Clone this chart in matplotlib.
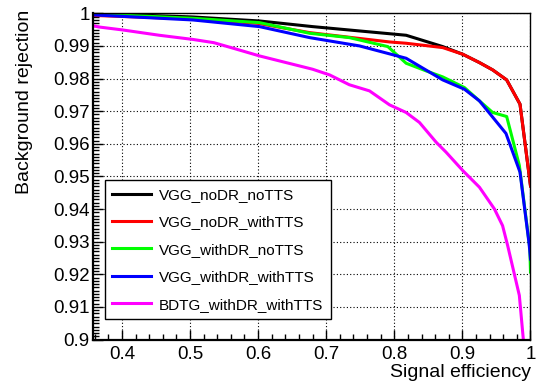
import matplotlib
matplotlib.use("Agg")
import matplotlib.pyplot as plt
from matplotlib.ticker import MultipleLocator, FuncFormatter

plt.rcParams['font.family'] = ['Liberation Sans', 'DejaVu Sans']

# --- data ---
labels = ["VGG_noDR_noTTS", "VGG_noDR_withTTS", "VGG_withDR_noTTS",
          "VGG_withDR_withTTS", "BDTG_withDR_withTTS"]
colors = ["#000000", "#ff0000", "#00ff00", "#0000ff", "#ff00ff"]

eff_vgg_nodr_notts = [0.35, 0.42, 0.504, 0.602, 0.680, 0.8174, 0.8711, 0.9005,
                      0.925, 0.9445, 0.965, 0.9846, 1.0]
rej_vgg_nodr_notts = [0.9999, 0.9995, 0.99888, 0.99765, 0.99592, 0.99327, 0.9898,
                      0.98745, 0.9849, 0.98265, 0.97959, 0.97214, 0.9471]

eff_vgg_nodr_withtts = [0.35, 0.5, 0.6, 0.6756, 0.793, 0.8174, 0.8711, 0.9005,
                        0.925, 0.9445, 0.965, 0.9846, 1.0]
rej_vgg_nodr_withtts = [0.9994, 0.9983, 0.9969, 0.99408, 0.99122, 0.99082, 0.98949,
                        0.98745, 0.9849, 0.98265, 0.97959, 0.97214, 0.9471]

eff_vgg_withdr_notts = [0.35, 0.504, 0.602, 0.6756, 0.734, 0.7905, 0.8174, 0.8467,
                        0.8711, 0.903, 0.925, 0.9445, 0.965, 0.9836, 0.999, 1.0]
rej_vgg_withdr_notts = [0.9999, 0.99847, 0.99714, 0.99388, 0.99255, 0.9898, 0.98469,
                        0.98235, 0.98051, 0.97724, 0.97316, 0.96959, 0.96837, 0.9534,
                        0.928, 0.9207]

eff_vgg_withdr_withtts = [0.35, 0.504, 0.602, 0.6756, 0.749, 0.8174, 0.8711, 0.903,
                          0.925, 0.964, 0.9846, 0.998, 1.0]
rej_vgg_withdr_withtts = [0.9996, 0.99796, 0.99592, 0.99255, 0.99, 0.98622, 0.97959,
                          0.97673, 0.97316, 0.96317, 0.9513, 0.9293, 0.9247]

eff_bdtg = [0.35, 0.3657, 0.401, 0.4549, 0.5039, 0.535, 0.565, 0.602, 0.641, 0.680,
            0.705, 0.734, 0.7636, 0.793, 0.8174, 0.837, 0.8614, 0.876, 0.9005, 0.925,
            0.947, 0.959, 0.9665, 0.9836, 0.9895, 0.9905]
rej_bdtg = [0.9966, 0.99582, 0.9949, 0.99327, 0.9920, 0.9910, 0.9892, 0.98694, 0.9849,
            0.98286, 0.98112, 0.9781, 0.97622, 0.97194, 0.9696, 0.96653, 0.9605, 0.95744,
            0.95181, 0.9467, 0.94004, 0.93492, 0.92878, 0.91355, 0.900, 0.89]

series = [(eff_vgg_nodr_notts, rej_vgg_nodr_notts),
          (eff_vgg_nodr_withtts, rej_vgg_nodr_withtts),
          (eff_vgg_withdr_notts, rej_vgg_withdr_notts),
          (eff_vgg_withdr_withtts, rej_vgg_withdr_withtts),
          (eff_bdtg, rej_bdtg)]

W, H = 546, 382
fig = plt.figure(figsize=(W / 100, H / 100), dpi=100)
L, R, T, B = 93.3, 530.5, 13.3, 339.6
ax = fig.add_axes([L / W, 1 - B / H, (R - L) / W, (B - T) / H])

for (x, y), c, lab in zip(series, colors, labels):
    ax.plot(x, y, color=c, lw=2.2, label=lab, solid_joinstyle='round')

ax.set_xlim(0.358, 1.0)
ax.set_ylim(0.9, 1.0)

ax.xaxis.set_major_locator(MultipleLocator(0.1))
ax.xaxis.set_minor_locator(MultipleLocator(0.02))
ax.yaxis.set_major_locator(MultipleLocator(0.01))
ax.yaxis.set_minor_locator(MultipleLocator(0.001))
fmt = FuncFormatter(lambda v, p: "%g" % round(v, 4))
ax.xaxis.set_major_formatter(fmt)
ax.yaxis.set_major_formatter(fmt)

ax.tick_params(which='both', direction='in', top=False, right=False, colors='black')
ax.tick_params(which='major', length=7, width=1, labelsize=13.5)
ax.tick_params(which='minor', length=4, width=1)
ax.tick_params(axis='y', which='major', pad=2.5)
ax.tick_params(axis='x', which='major', pad=4.5)

ax.grid(True, which='major', color='black', linestyle=(0, (1, 2)), lw=0.8)
for s in ['left', 'bottom']:
    ax.spines[s].set_linewidth(1.6)
for s in ['top', 'right']:
    ax.spines[s].set_linewidth(1.0)

fig.text(530.5 / W, 1 - 377 / H, "Signal efficiency", ha='right', va='baseline', fontsize=14)
fig.text(25 / W, 1 - 10 / H, "Background rejection", ha='center', va='top',
         rotation=90, fontsize=14)

leg = ax.legend(loc='upper left', bbox_to_anchor=(104.7 / W, 1 - 180.3 / H),
                bbox_transform=fig.transFigure, borderaxespad=0, fancybox=False,
                frameon=True, edgecolor='black', fontsize=11, handlelength=2.5,
                handletextpad=0.55, labelspacing=0.88, borderpad=0.5)
leg.get_frame().set_linewidth(1.0)
leg.get_frame().set_alpha(1)

fig.savefig("out.png", dpi=100)
